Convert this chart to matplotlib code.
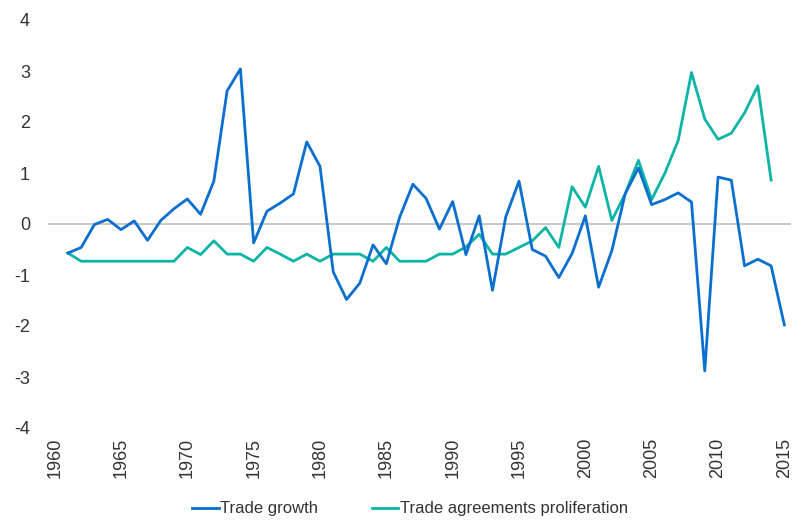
import numpy as np
import matplotlib
matplotlib.use('Agg')
import matplotlib.pyplot as plt

plt.rcParams['font.family'] = ['Liberation Sans', 'DejaVu Sans']
plt.rcParams['axes.unicode_minus'] = False

# years and series
years_growth = list(range(1961, 2016))
trade_growth = [-0.57, -0.46, -0.01, 0.09, -0.11, 0.06, -0.32, 0.07, 0.30, 0.49,
                0.19, 0.84, 2.61, 3.04, -0.37, 0.25, 0.41, 0.59, 1.61, 1.13,
                -0.94, -1.48, -1.16, -0.41, -0.78, 0.13, 0.78, 0.50, -0.10, 0.44,
                -0.60, 0.16, -1.30, 0.14, 0.84, -0.50, -0.63, -1.05, -0.58, 0.16,
                -1.24, -0.52, 0.59, 1.10, 0.38, 0.48, 0.61, 0.43, -2.88, 0.92,
                0.86, -0.82, -0.69, -0.82, -1.98]

years_agree = list(range(1961, 2015))
trade_agreements = [-0.57, -0.73, -0.73, -0.73, -0.73, -0.73, -0.73, -0.73, -0.73, -0.46,
                    -0.60, -0.33, -0.59, -0.59, -0.73, -0.46, -0.59, -0.73, -0.59, -0.73,
                    -0.59, -0.59, -0.59, -0.73, -0.46, -0.73, -0.73, -0.73, -0.59, -0.59,
                    -0.45, -0.20, -0.59, -0.59, -0.46, -0.33, -0.07, -0.46, 0.73, 0.33,
                    1.13, 0.07, 0.59, 1.25, 0.48, 1.00, 1.64, 2.97, 2.06, 1.66,
                    1.78, 2.18, 2.71, 0.86]

xticks = list(range(1960, 2016, 5))
yticks = list(range(-4, 5))

fig = plt.figure(figsize=(8.03, 5.22), dpi=100)
ax = fig.add_axes([48/803, 1-428/522, (791-48)/803, (428-20)/522])

ax.axhline(0, color='#bfbfbf', lw=1.2, zorder=1)
ax.plot(years_growth, trade_growth, color='#0a6fcf', lw=2, label='Trade growth', zorder=3)
ax.plot(years_agree, trade_agreements, color='#0cb4a6', lw=2,
        label='Trade agreements proliferation', zorder=2)

ax.set_xlim(1959.5, 2015.5)
ax.set_ylim(-4, 4)
ax.set_xticks(xticks)
ax.set_xticklabels([str(x) for x in xticks], rotation=90)
ax.set_yticks(yticks)
ax.set_yticklabels([str(y) for y in yticks])
ax.tick_params(axis='both', length=0, labelsize=13, colors='#333333')
ax.tick_params(axis='y', pad=13)
ax.tick_params(axis='x', pad=7)
for s in ax.spines.values():
    s.set_visible(False)

leg = fig.legend(loc='center', bbox_to_anchor=(410/803, 1-509/522), ncol=2,
                 frameon=False, fontsize=12, handlelength=1.6, handletextpad=0.1,
                 columnspacing=3.2)
for t in leg.get_texts():
    t.set_color('#333333')

fig.savefig('out.png', dpi=100)
